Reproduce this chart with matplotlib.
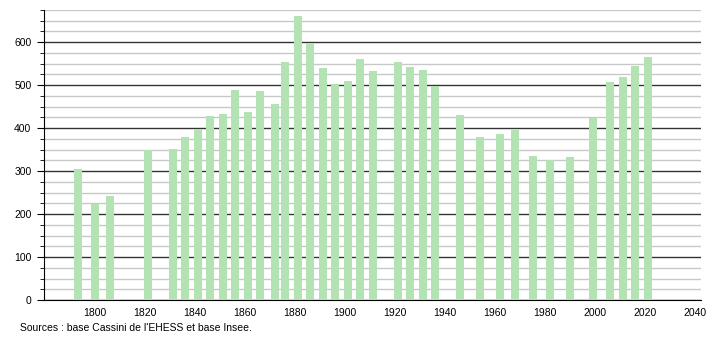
import matplotlib
matplotlib.use("Agg")
import matplotlib.pyplot as plt
from matplotlib.ticker import MultipleLocator

plt.rcParams['font.family'] = ['Liberation Sans', 'DejaVu Sans']

years = [1793, 1800, 1806, 1821, 1831, 1836, 1841, 1846, 1851, 1856, 1861, 1866,
         1872, 1876, 1881, 1886, 1891, 1896, 1901, 1906, 1911, 1921, 1926, 1931,
         1936, 1946, 1954, 1962, 1968, 1975, 1982, 1990, 1999, 2006, 2011, 2016, 2021]
population = [306, 223, 243, 348, 352, 379, 397, 428, 434, 488, 437, 486,
              457, 553, 660, 598, 540, 502, 509, 560, 533, 553, 542, 535,
              498, 430, 379, 386, 396, 335, 326, 333, 423, 507, 519, 544, 565]
source = "Sources : base Cassini de l'EHESS et base Insee."

fig = plt.figure(figsize=(7.1, 3.4), dpi=100)
ax = fig.add_axes([44/710, 40/340, (701-44)/710, 290/340])

ax.bar(years, population, width=3.2, color='#b3e3b3', zorder=3)

ax.set_xlim(1779.6, 2042.4)
ax.set_ylim(0, 675)
ax.xaxis.set_major_locator(MultipleLocator(20))
ax.set_xticks(range(1800, 2041, 20))
ax.yaxis.set_major_locator(MultipleLocator(100))
ax.yaxis.set_minor_locator(MultipleLocator(25))

ax.grid(which='major', axis='y', color='#333333', linewidth=1.0, zorder=1)
ax.grid(which='minor', axis='y', color='#c8c8c8', linewidth=1.0, zorder=1)

for s in ['top', 'right']:
    ax.spines[s].set_visible(False)
ax.spines['left'].set_color('black')
ax.spines['bottom'].set_color('black')

ax.tick_params(axis='x', length=0, labelsize=7.5, pad=6)
ax.tick_params(axis='y', which='major', length=5, labelsize=7.5, pad=4)
ax.tick_params(axis='y', which='minor', length=3)

fig.text(20/710, 1 - 328/340, source, fontsize=7.5, va='center', ha='left')

fig.savefig('out.png', dpi=100)
